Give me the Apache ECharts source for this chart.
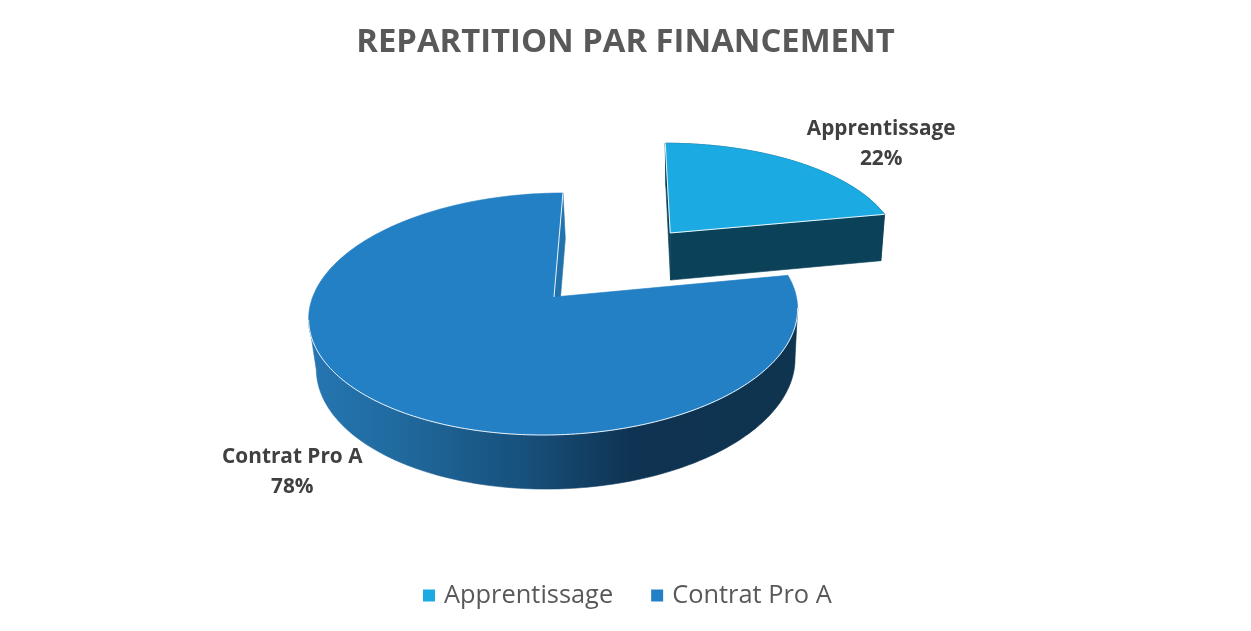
<!DOCTYPE html>
<html>
<head>
<meta charset="utf-8">
<script src="https://cdn.jsdelivr.net/npm/echarts@6/dist/echarts.min.js"></script>
<style>html,body{margin:0;padding:0;background:#fff}#c{width:1251px;height:631px}</style>
</head>
<body>
<div id="c"></div>
<script>
var titleText = 'REPARTITION PAR FINANCEMENT';
var categories = ['Apprentissage', 'Contrat Pro A'];
var shares = [22, 78];
var topColors = ['#1BABE2', '#2480C5'];

var total = shares.reduce(function (a, b) { return a + b; }, 0);

// Camera model of the tilted disc
var cam = { x0: 554, y0: 297, a: 242, b: 118.6, k: 0.1405, c: 50.5, m: 0.021, shear: 2.5, d: 6, e: 2 };
var startAngle = 1, explodeBy = [0.765, 0], explodeTurn = 0.7, labelRadius = [1.47, 1.49], labelTurn = [8, -5];

function project(x, y, z) {
  var w = 1 + cam.k * y - cam.m * z;
  return [
    cam.x0 + (cam.a * x + cam.d * y) / w - cam.shear * z,
    cam.y0 - (cam.b * y + cam.e * x + cam.c * z) / w
  ];
}
function rad(d) { return d * Math.PI / 180; }

function sliceItem(index) {
  return function (params, api) {
    var value = api.value(0);
    var before = 0;
    for (var i = 0; i < index; i++) before += shares[i];
    var from = startAngle + before / total * 360;
    var to = from + value / total * 360;
    var mid = rad((from + to) / 2);
    var ox = Math.sin(mid + rad(explodeTurn)) * explodeBy[index], oy = Math.cos(mid + rad(explodeTurn)) * explodeBy[index];

    function angles(a0, a1) {
      var out = [];
      for (var d = a0; d < a1; d += 1) out.push(d);
      out.push(a1);
      return out;
    }
    function rimPoint(d, z) {
      return project(ox + Math.sin(rad(d)), oy + Math.cos(rad(d)), z);
    }
    var list = angles(from, to);
    var top = list.map(function (d) { return rimPoint(d, 0); });
    var bottom = list.map(function (d) { return rimPoint(d, -1); });
    var hubTop = project(ox, oy, 0), hubBot = project(ox, oy, -1);
    var edge = 'rgba(255,255,255,0.9)';
    var children = [];

    function face(points, fill) {
      children.push({
        type: 'polygon', shape: { points: points }, silent: true,
        style: { fill: fill, stroke: fill, lineWidth: 0.6, lineJoin: 'round' }
      });
    }
    function line(points) {
      children.push({
        type: 'polyline', shape: { points: points }, silent: true,
        style: { fill: null, stroke: edge, lineWidth: 1 }
      });
    }

    if (index === 1) {
      // outer wall: only the part between the two silhouette points of the rim
      var iMax = 0, iMin = 0;
      top.forEach(function (p, n) {
        if (p[0] > top[iMax][0]) iMax = n;
        if (p[0] < top[iMin][0]) iMin = n;
      });
      var wallTop = top.slice(iMax, iMin + 1), wallBottom = bottom.slice(iMax, iMin + 1).reverse();
      face(wallTop.concat(wallBottom), new echarts.graphic.LinearGradient(0, 0, 1, 0, [
        { offset: 0, color: '#2676B2' },
        { offset: 0.18, color: '#206A9F' },
        { offset: 0.45, color: '#174F7A' },
        { offset: 0.66, color: '#0F3352' },
        { offset: 1, color: '#0E344F' }
      ]));
      face([hubTop, top[top.length - 1], bottom[bottom.length - 1], hubBot], '#2272AC');
      face([hubTop].concat(top), topColors[1]);
      line([hubTop, top[top.length - 1]]);
      line(top.slice(iMax, iMin + 1));
    } else {
      face(top.concat(bottom.slice().reverse()), '#0B4259');
      face([hubTop, top[0], bottom[0], hubBot], '#0B4259');
      face([hubTop, top[top.length - 1], bottom[bottom.length - 1], hubBot], '#0B4259');
      face([hubTop].concat(top), topColors[0]);
      line([hubTop, top[top.length - 1]]);
      line([hubTop, top[0]]);
    }

    var labelAngle = mid + rad(labelTurn[index]);
    var lp = project(ox + Math.sin(labelAngle) * labelRadius[index], oy + Math.cos(labelAngle) * labelRadius[index], 0);
    children.push({
      type: 'text', silent: true,
      style: {
        x: lp[0], y: lp[1], text: categories[index] + '\n' + Math.round(value / total * 100) + '%',
        align: 'center', verticalAlign: 'middle', fill: '#404040',
        font: 'bold 20.8px "Open Sans"', lineHeight: 30
      }
    });
    return { type: 'group', children: children };
  };
}

var chart = echarts.init(document.getElementById('c'), null, { renderer: 'canvas' });
chart.setOption({
  animation: false,
  backgroundColor: '#fff',
  title: {
    text: titleText, left: 'center', top: 21,
    textStyle: { fontFamily: 'Open Sans', fontWeight: 'bold', fontSize: 32.8, color: '#595959' }
  },
  legend: {
    left: 418, top: 578, icon: 'rect', itemWidth: 12, itemHeight: 12, itemGap: 38,
    data: categories,
    textStyle: { fontFamily: 'Open Sans', fontSize: 25.4, color: '#595959', padding: [0, 0, 0, 4] }
  },
  series: categories.map(function (name, i) {
    return {
      type: 'custom', name: name, coordinateSystem: 'none',
      data: [[shares[i]]], renderItem: sliceItem(i), clip: false,
      itemStyle: { color: topColors[i] }
    };
  })
});
</script>
</body>
</html>
